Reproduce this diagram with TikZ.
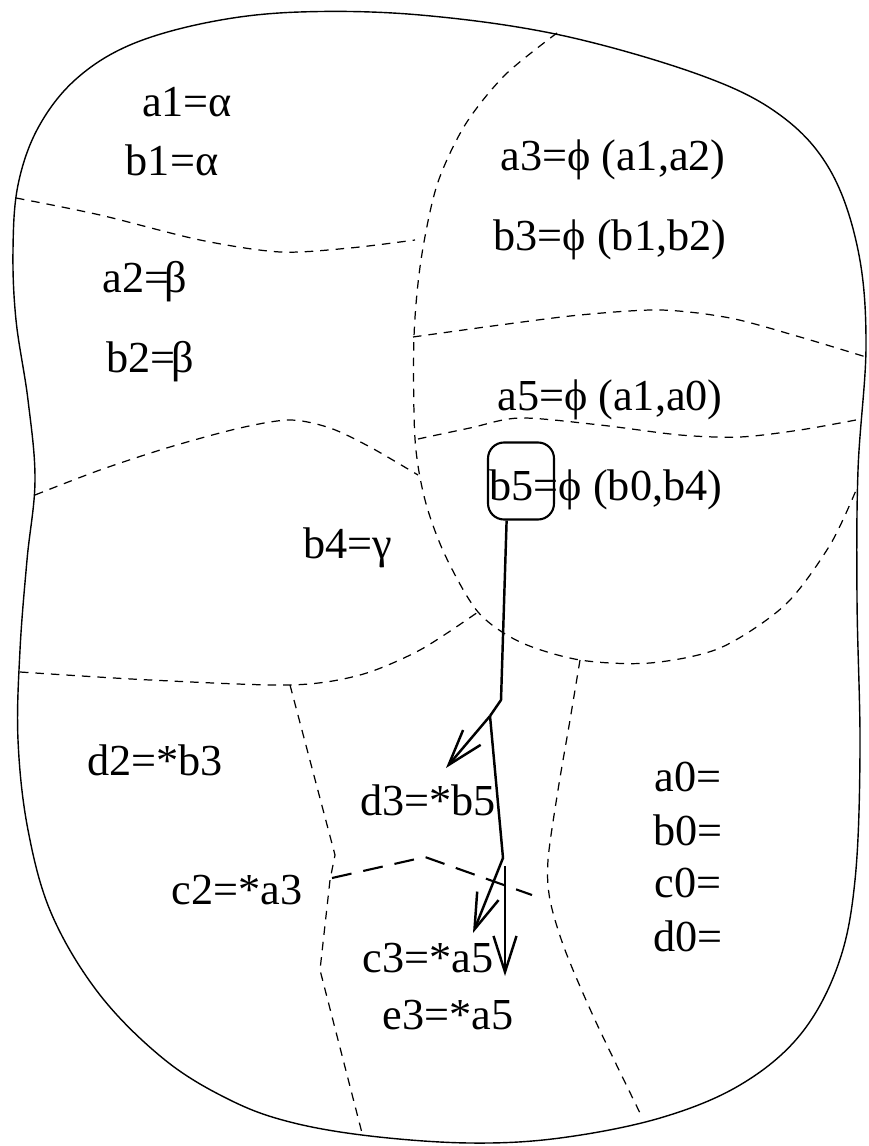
\documentclass[tikz,border=0pt]{standalone}
\usepackage{fontspec}
\setmainfont{Liberation Serif}
\usetikzlibrary{arrows.meta}

\begin{document}
\begin{tikzpicture}[x=0.1mm, y=-0.1mm, line width=0.4pt,
  lbl/.style={font=\fontsize{12.6}{14}\selectfont, inner sep=1pt},
  part/.style={line width=0.35pt, dash pattern=on 0.85mm off 0.7mm},
  cut/.style={line width=0.6pt, dash pattern=on 2mm off 1.2mm},
  flow/.style={line width=0.7pt, -{Straight Barb[length=3.6mm, width=2.3mm]}}]
  \useasboundingbox (0,0) rectangle (869,1146);
  \draw plot[smooth cycle, tension=0.6] coordinates {(300,12) (420,15) (560,35) (700,75) (780,115)
    (830,170) (858,250) (866,345) (858,470) (857,600) (860,750) (855,880) (838,965) (800,1035)
    (740,1085) (660,1118) (560,1138) (470,1143) (370,1136) (290,1122) (230,1100) (165,1060)
    (100,995) (52,915) (28,830) (18,740) (20,650) (27,560) (35,480) (28,400) (16,320) (13,250)
    (18,185) (38,128) (75,80) (130,45) (210,22)};
  \draw[part] plot[smooth] coordinates {(16,198) (100,215) (200,240) (280,252) (350,248) (415,240)};
  \draw[part] plot[smooth] coordinates {(557,33) (505,75) (465,125) (437,185) (421,260) (414,337)
    (415,439) (425,500) (445,555) (478,612) (520,642) (580,660) (650,663) (720,648) (785,605)
    (830,545) (857,488)};
  \draw[part] plot[smooth] coordinates {(35,495) (100,470) (170,447) (240,428) (290,420) (330,428)
    (370,447) (418,475)};
  \draw[part] plot[smooth] coordinates {(413,337) (500,325) (580,315) (660,310) (730,318) (800,337)
    (866,357)};
  \draw[part] plot[smooth] coordinates {(418,439) (470,428) (520,418) (600,425) (680,435) (740,437)
    (800,430) (856,420)};
  \draw[part] plot[smooth] coordinates {(20,672) (150,680) (290,685) (360,675) (420,650) (478,612)};
  \draw[part] (290,685) -- (335,855) -- (330,880) -- (320,970) -- (362,1133);
  \draw[part] plot[smooth] coordinates {(580,660) (570,720) (558,790) (548,860) (550,900) (565,950)
    (595,1020) (640,1113)};
  \draw[cut] (332,878) -- (425,857) -- (532,895);

  \node[lbl] (a1) at (187,102) {a1=α};
  \node[lbl] (b1) at (172,160) {b1=α};
  \node[lbl] (a2) at (145,282) {a2=\kern-.1em β};
  \node[lbl] (b2) at (150,362) {b2=\kern-.1em β};
  \node[lbl] (a3) at (613,160) {a3=ϕ (a1,a2)};
  \node[lbl] (b3) at (610,240) {b3=ϕ (b1,b2)};
  \node[lbl] (a5) at (610,400) {a5=ϕ (a1,a0)};
  \node[lbl] (b5) at (606,490) {b5=ϕ (b0,b4)};
  \node[draw, rounded corners=1.6mm, line width=0.6pt, minimum width=6.6mm, minimum height=7.7mm]
    (b5box) at (521,481) {};
  \node[lbl] (b4) at (348,548) {b4=γ};
  \node[lbl] (d2) at (155,760) {d2=*b3};
  \node[lbl] (d3) at (428,800) {d3=*b5};
  \node[lbl] (c2) at (237,890) {c2=*a3};
  \node[lbl] (c3) at (428,958) {c3=*a5};
  \node[lbl] (e3) at (448,1015) {e3=*a5};
  \foreach \v [count=\i] in {a,b,c,d}
    \node[lbl] (\v0) at (688,{777+53*(\i-1)}) {\v0=};

  \coordinate (s1) at (501,700);
  \coordinate (s2) at (490,716);
  \coordinate (s3) at (503,858);
  \coordinate (s4) at (505,866);
  \draw[line width=0.7pt] (b5box.250) -- (s1) -- (s2);
  \draw[flow] (s2) -- ([shift={(18,-32)}]d3.center);
  \draw[flow] (s2) -- (s3) -- ([shift={(45,-25)}]c3.center);
  \draw[flow] (s4) -- ([shift={(57,-39)}]e3.center);
\end{tikzpicture}
\end{document}
